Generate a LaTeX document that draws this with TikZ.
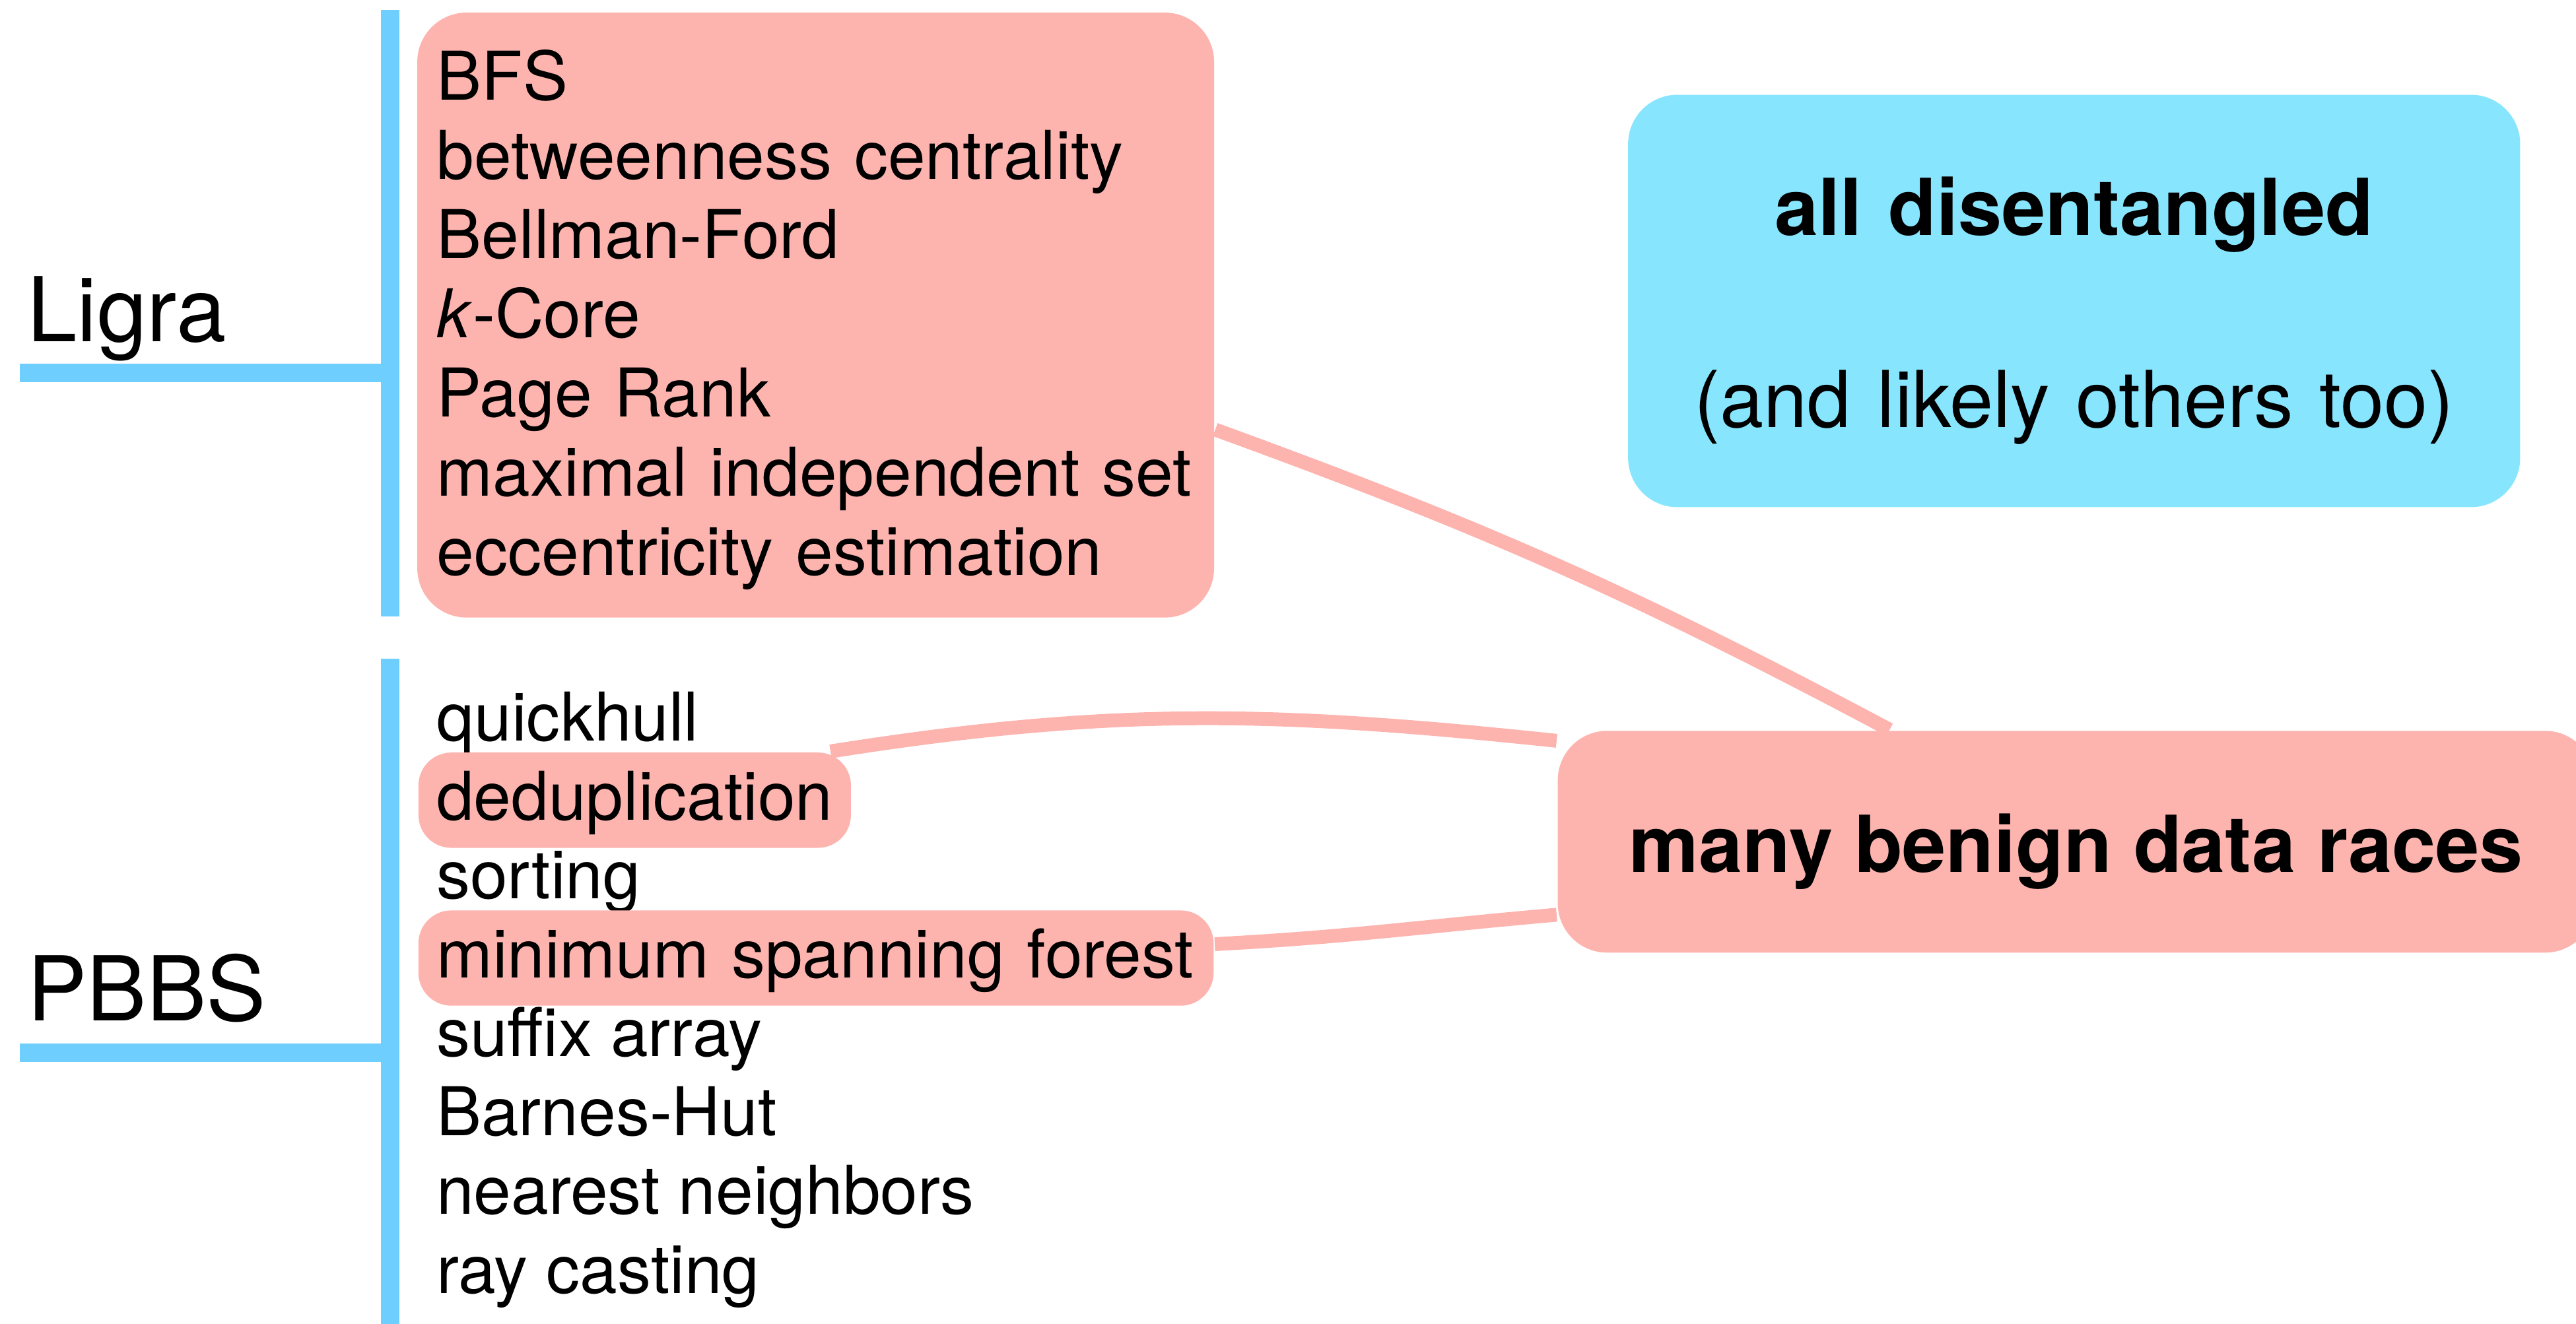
\documentclass[tikz,border=0pt]{standalone}
\usepackage{fontspec}
\setmainfont{TeX Gyre Heros}
\usepackage{xcolor}
\usepackage{tikz}

\definecolor{racepink}{RGB}{253,180,175}
\definecolor{tangleblue}{RGB}{136,229,254}
\definecolor{barblue}{RGB}{110,207,254}

\tikzset{
  bar/.style={line width=3.2pt, draw=barblue},
  link/.style={line width=2.4pt, draw=racepink},
  group/.style={anchor=base west, inner sep=0pt, font=\fontsize{15.5pt}{18pt}\selectfont},
  item/.style={anchor=base west, inner xsep=0.11cm, inner ysep=0.05cm, text height=0.36cm, text depth=0.12cm,
    rounded corners=0.2cm, font=\fontsize{11.65pt}{13.72pt}\selectfont},
  hot/.style={item, fill=racepink},
  bigbox/.style={rounded corners=0.3cm, inner xsep=0.1cm, inner ysep=0pt}
}

\begin{document}
\begin{tikzpicture}
\useasboundingbox (0,0) rectangle (15.68,8.06);
%% Ligra
\node[group] (ligra) at (0.16,5.98) {Ligra};
\coordinate (ligra top) at (2.375,8.0);
\coordinate (ligra bottom) at (2.375,4.305);
\coordinate (ligra hook) at (0.12,5.79);
\draw[-,bar] (ligra top) -- (ligra bottom);
\draw[-,bar] (ligra hook) -- (ligra hook -| ligra top);
\node[bigbox, fill=racepink, align=left, inner xsep=0.12cm, text width=4.61cm, text height=0.532cm, text depth=3.151cm,
  font=\fontsize{11.65pt}{13.72pt}\selectfont] (ligra list) at (4.965,6.1415)
  {BFS\\betweenness centrality\\Bellman-Ford\\\textit{k}-Core\\Page Rank\\maximal independent set\\eccentricity estimation};
%% PBBS
\node[group] (pbbs) at (0.16,1.845) {PBBS};
\coordinate (pbbs top) at (2.375,4.05);
\coordinate (pbbs bottom) at (2.375,-0.1);
\coordinate (pbbs hook) at (0.12,1.65);
\draw[-,bar] (pbbs top) -- (pbbs bottom);
\draw[-,bar] (pbbs hook) -- (pbbs hook -| pbbs top);
%%
\node[item] (quickhull) at (2.54,3.549) {quickhull};
\node[hot] (dedup) at (2.54,3.068) {deduplication};
\node[item] (sorting) at (2.54,2.588) {sorting};
\node[hot, align=left, text width=4.62cm] (msf) at (2.54,2.107) {minimum spanning forest};
\node[item] (suffix) at (2.54,1.627) {suffix array};
\node[item] (barnes) at (2.54,1.146) {Barnes-Hut};
\node[item] (neighbors) at (2.54,0.666) {nearest neighbors};
\node[item] (raycast) at (2.54,0.185) {ray casting};
%% right side
\node[bigbox, fill=tangleblue, align=center, text width=5.23cm, text height=0.854cm, text depth=1.657cm,
  font=\fontsize{13.6pt}{33.35pt}\selectfont] (tangled) at (12.625,6.2275)
  {\textbf{all disentangled}\\(and likely others too)};
\node[bigbox, fill=racepink, minimum width=6.31cm, text height=0.86cm, text depth=0.49cm,
  font=\bfseries\fontsize{13.6pt}{16pt}\selectfont] (races) at (12.637,2.935) {many benign data races};
%% links
\draw[-,link] (ligra list.-16.6) to[out=-20,in=152] (races.149.5);
\draw[-,link] (dedup.14) to[out=9,in=174] (races.169);
\draw[-,link] (msf.2) to[out=3,in=185] (races.188.75);
\end{tikzpicture}
\end{document}
